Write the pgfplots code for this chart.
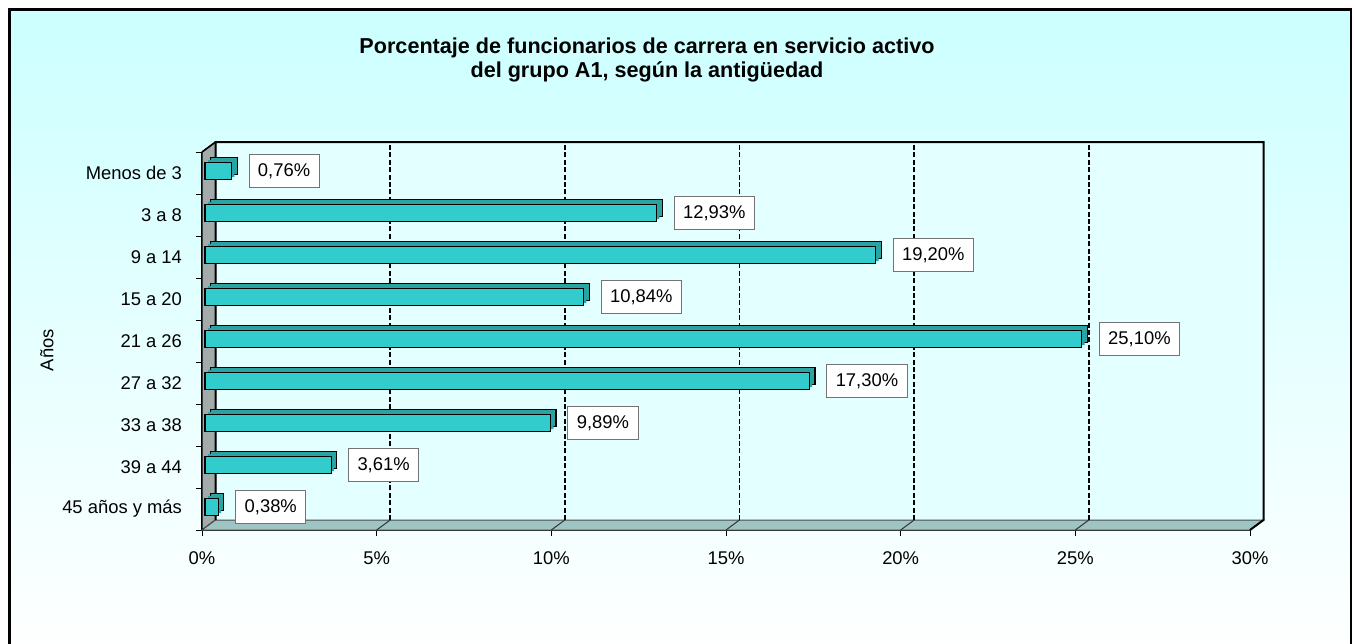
\documentclass[border=0pt]{standalone}
\usepackage{pgfplots}
\pgfplotsset{compat=1.18}
\usepackage{pgfplotstable}
\usepackage{fontspec}
\setmainfont{Liberation Sans}

\definecolor{BgTop}{HTML}{CCFFFF}
\definecolor{WallBack}{HTML}{E4FFFF}
\definecolor{WallLeft}{HTML}{A2AAAA}
\definecolor{Floor}{HTML}{9FC4C4}
\definecolor{BarFront}{HTML}{33CCCC}
\definecolor{BarSide}{HTML}{2AA3A3}

% rows: 0 = bottom category
\pgfplotstableread{
y v
0 0.38
1 3.61
2 9.89
3 17.30
4 25.10
5 10.84
6 19.20
7 12.93
8 0.76
}\antiguedad

\begin{document}
\begin{tikzpicture}
\useasboundingbox (0,0) rectangle (677.5pt,-321.5pt);
\shade[top color=BgTop, bottom color=white] (4.85pt,-4.85pt) rectangle (675.5pt,-330pt);
\draw[line width=1.4pt] (4.85pt,-4.85pt) rectangle (675.5pt,-340pt);

\node[font=\bfseries\fontsize{10.8}{12}\selectfont, align=center] at (323.5pt,-30pt)
  {Porcentaje de funcionarios de carrera en servicio activo\\del grupo A1, según la antigüedad};

\begin{axis}[
  at={(101pt,-265pt)}, anchor=south west,
  scale only axis,
  width=524pt, height=189pt,
  xmin=0, xmax=30,
  ymin=-0.5, ymax=8.5,
  clip=false,
  axis lines*=left,
  axis line style={black, line width=0.8pt},
  tick align=outside,
  major tick length=3pt,
  minor tick length=3pt,
  xtick={0,5,...,30},
  xticklabels={0\%,5\%,10\%,15\%,20\%,25\%,30\%},
  ytick={0,...,8},
  yticklabels={45 años y más,39 a 44,33 a 38,27 a 32,21 a 26,15 a 20,9 a 14,3 a 8,Menos de 3},
  minor ytick={-0.5,0.5,...,8.5},
  major y tick style={draw=none},
  minor y tick style={black, line width=0.5pt},
  major x tick style={black, line width=0.5pt},
  tick label style={font=\fontsize{9.2}{10}\selectfont},
  xticklabel style={yshift=-4.5pt},
  yticklabel style={xshift=-3.5pt},
  ylabel={Años},
  ylabel style={at={(axis description cs:-0.148,0.476)}, anchor=center, font=\fontsize{9.2}{10}\selectfont},
]
% back wall
\fill[WallBack] ([shift={(6.75pt,5pt)}]axis cs:0,-0.5) rectangle ([shift={(6.75pt,5pt)}]axis cs:30,8.5);
% left wall
\filldraw[fill=WallLeft, draw=black, line width=0.5pt] (axis cs:0,-0.5) -- ([shift={(6.75pt,5pt)}]axis cs:0,-0.5)
  -- ([shift={(6.75pt,5pt)}]axis cs:0,8.5) -- (axis cs:0,8.5) -- cycle;
% floor
\filldraw[fill=Floor, draw=black!70, line width=0.5pt] (axis cs:0,-0.5) -- (axis cs:30,-0.5)
  -- ([shift={(6.75pt,5pt)}]axis cs:30,-0.5) -- ([shift={(6.75pt,5pt)}]axis cs:0,-0.5) -- cycle;
% gridlines
\pgfplotsinvokeforeach{5,10,15,20,25}{
  \draw[black!80, line width=0.5pt] (axis cs:#1,-0.5) -- ([shift={(6.75pt,5pt)}]axis cs:#1,-0.5);
  \draw[black, line width=0.9pt, dash pattern=on 2.5pt off 1.2pt]
    ([shift={(6.75pt,5pt)}]axis cs:#1,-0.5) -- ([shift={(6.75pt,5pt)}]axis cs:#1,8.5);
}
% wall borders
\draw[black, line width=1pt] ([shift={(6.75pt,5pt)}]axis cs:0,-0.5) -- ([shift={(6.75pt,5pt)}]axis cs:0,8.5)
  -- ([shift={(6.75pt,5pt)}]axis cs:30,8.5) -- ([shift={(6.75pt,5pt)}]axis cs:30,-0.5) -- (axis cs:30,-0.5);
\draw[black, line width=0.8pt] (axis cs:0,8.5) -- ([shift={(6.75pt,5pt)}]axis cs:0,8.5);

% bars: back face, fill-in, front face
\addplot[xbar, bar width=8.5pt, fill=BarSide, draw=black, line width=0.6pt, xshift=4.3pt, yshift=3.4pt]
  table[x=v, y=y] {\antiguedad};
\addplot[xbar, bar width=8.5pt, fill=BarSide, draw=none, xshift=2.9pt, yshift=2.2pt]
  table[x=v, y=y] {\antiguedad};
\addplot[xbar, bar width=8.5pt, fill=BarFront, draw=black, line width=0.6pt, xshift=1.5pt, yshift=1pt,
  point meta=x,
  nodes near coords={\pgfmathprintnumber[assume math mode=true, use comma, fixed, fixed zerofill, precision=2]{\pgfplotspointmeta}\%},
  nodes near coords style={anchor=west, xshift=8.5pt, fill=white, draw=black!55, line width=0.4pt,
    inner xsep=4.5pt, inner ysep=4.3pt, font=\fontsize{9.2}{10}\selectfont, text=black}]
  table[x=v, y=y] {\antiguedad};
\end{axis}
\end{tikzpicture}
\end{document}
